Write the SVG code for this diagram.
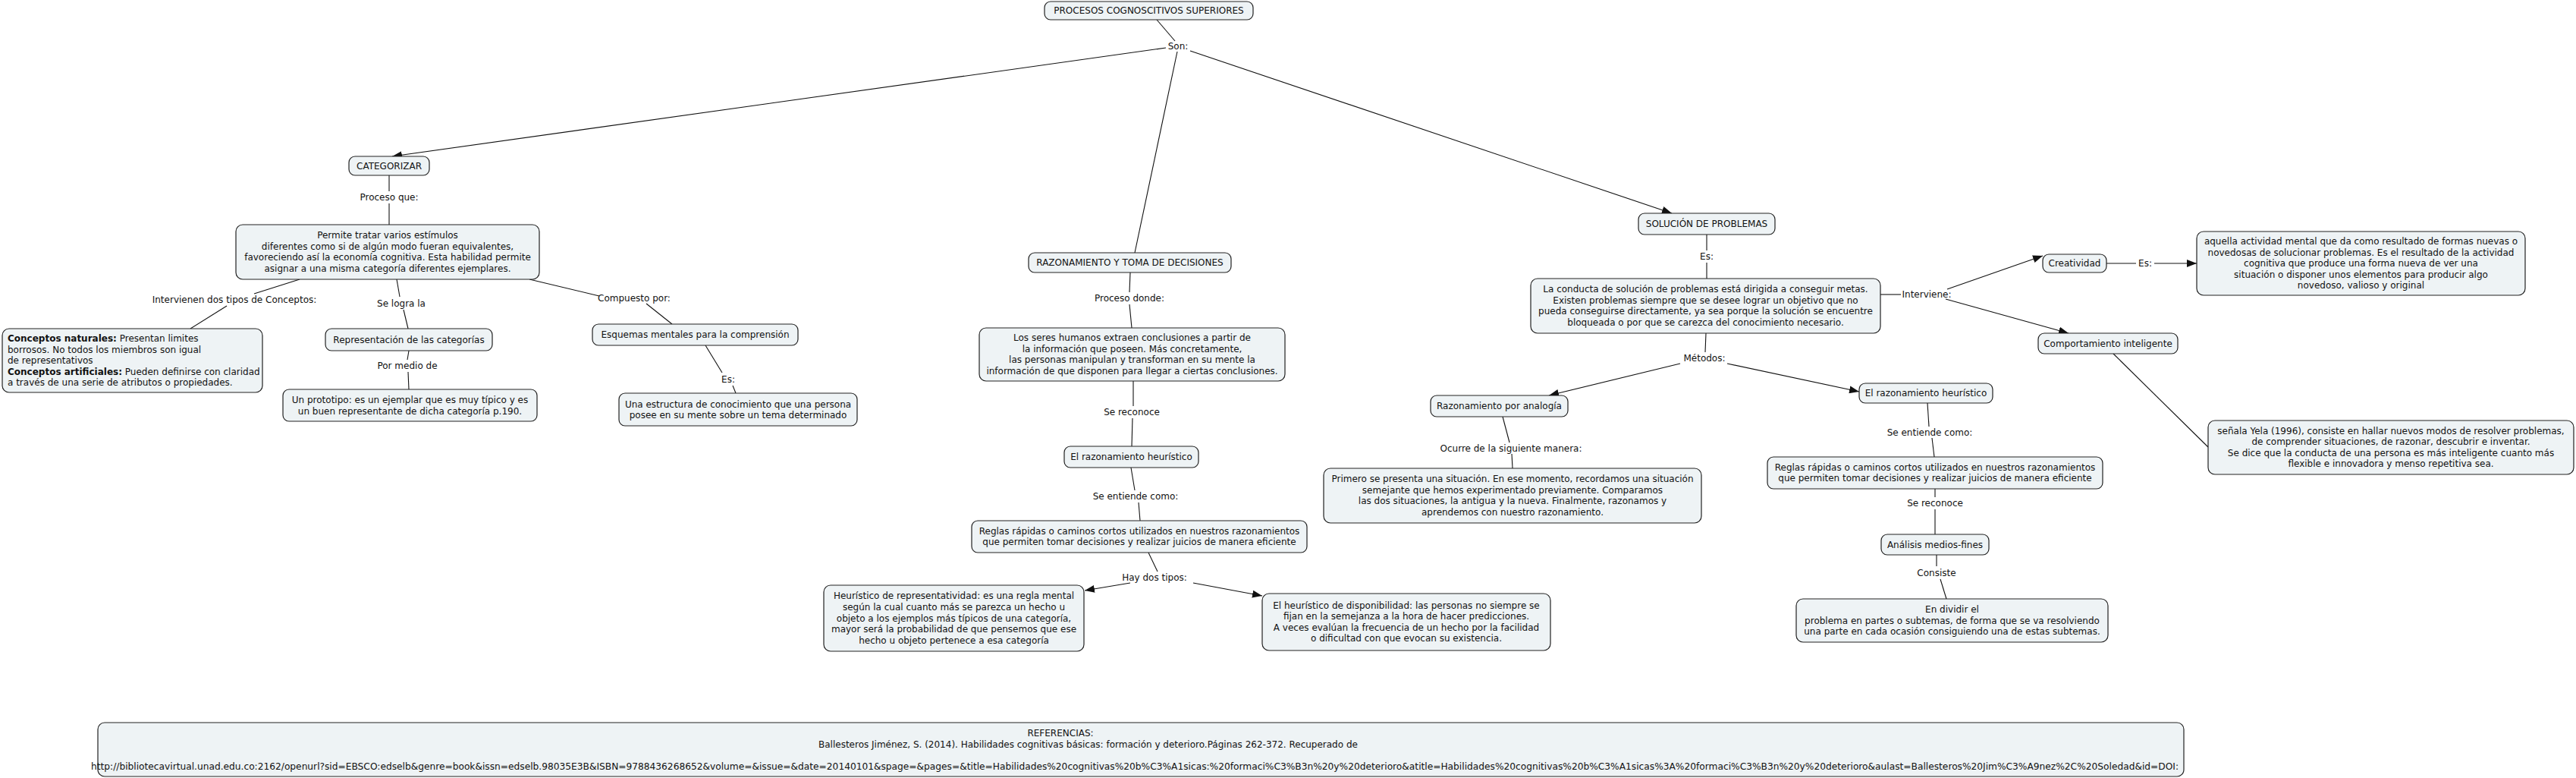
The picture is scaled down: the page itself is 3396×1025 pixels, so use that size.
<svg xmlns="http://www.w3.org/2000/svg" width="3396" height="1025" viewBox="0 0 3396 1025">
<style>
.n rect{fill:#eef3f5;stroke:#222;stroke-width:1.2}
text{font-family:"DejaVu Sans",Verdana,sans-serif;font-size:12px;fill:#111}
.m{text-anchor:middle}
.c line{stroke:#111;stroke-width:1.1}
</style>
<defs>
<marker id="a" viewBox="0 0 13 10" refX="13" refY="5" markerWidth="13" markerHeight="10" markerUnits="userSpaceOnUse" orient="auto"><path d="M0,0L13,5L0,10z" fill="#111"/></marker>
</defs>
<rect width="3396" height="1025" fill="#fff"/>
<g id="connectors" class="c">
<line x1="1525" y1="26" x2="1549" y2="54"/>
<line x1="1537" y1="63" x2="517" y2="206" marker-end="url(#a)"/>
<line x1="1552" y1="68" x2="1496" y2="333"/>
<line x1="1569" y1="67" x2="2204" y2="281" marker-end="url(#a)"/>
<line x1="513" y1="231" x2="513" y2="252"/>
<line x1="513" y1="268" x2="513" y2="296"/>
<line x1="395" y1="368" x2="335" y2="387"/>
<line x1="299" y1="403" x2="251" y2="433"/>
<line x1="523" y1="368" x2="527" y2="391"/>
<line x1="532" y1="408" x2="538" y2="433"/>
<line x1="698" y1="368" x2="790" y2="390"/>
<line x1="852" y1="400" x2="886" y2="427"/>
<line x1="539" y1="462" x2="537" y2="474"/>
<line x1="538" y1="490" x2="539" y2="513"/>
<line x1="930" y1="455" x2="952" y2="491"/>
<line x1="966" y1="508" x2="970" y2="518"/>
<line x1="1490" y1="359" x2="1489" y2="385"/>
<line x1="1489" y1="401" x2="1492" y2="432"/>
<line x1="1494" y1="502" x2="1494" y2="535"/>
<line x1="1493" y1="551" x2="1492" y2="588"/>
<line x1="1491" y1="616" x2="1496" y2="646"/>
<line x1="1501" y1="662" x2="1503" y2="686"/>
<line x1="1514" y1="728" x2="1526" y2="753"/>
<line x1="1490" y1="768" x2="1430" y2="778" marker-end="url(#a)"/>
<line x1="1573" y1="768" x2="1664" y2="785" marker-end="url(#a)"/>
<line x1="2250" y1="309" x2="2250" y2="330"/>
<line x1="2250" y1="346" x2="2250" y2="367"/>
<line x1="2249" y1="439" x2="2248" y2="464"/>
<line x1="2215" y1="479" x2="2042" y2="521" marker-end="url(#a)"/>
<line x1="2277" y1="479" x2="2451" y2="516" marker-end="url(#a)"/>
<line x1="1981" y1="549" x2="1990" y2="583"/>
<line x1="1993" y1="598" x2="1994" y2="617"/>
<line x1="2541" y1="531" x2="2543" y2="562"/>
<line x1="2547" y1="577" x2="2550" y2="602"/>
<line x1="2551" y1="644" x2="2551" y2="655"/>
<line x1="2551" y1="671" x2="2551" y2="704"/>
<line x1="2553" y1="731" x2="2553" y2="746"/>
<line x1="2558" y1="763" x2="2566" y2="789"/>
<line x1="2479" y1="388" x2="2506" y2="388"/>
<line x1="2567" y1="381" x2="2693" y2="337" marker-end="url(#a)"/>
<line x1="2565" y1="394" x2="2727" y2="439" marker-end="url(#a)"/>
<line x1="2777" y1="347" x2="2816" y2="347"/>
<line x1="2840" y1="347" x2="2896" y2="347" marker-end="url(#a)"/>
<line x1="2786" y1="466" x2="2911" y2="589"/>
</g>
<g id="labels">
<text class="m" x="1553" y="65">Son:</text>
<text class="m" x="513" y="264">Proceso que:</text>
<text class="m" x="309" y="399">Intervienen dos tipos de Conceptos:</text>
<text class="m" x="529" y="404">Se logra la</text>
<text class="m" x="836" y="397">Compuesto por:</text>
<text class="m" x="537" y="486">Por medio de</text>
<text class="m" x="960" y="504">Es:</text>
<text class="m" x="1489" y="397">Proceso donde:</text>
<text class="m" x="1492" y="547">Se reconoce</text>
<text class="m" x="1497" y="658">Se entiende como:</text>
<text class="m" x="1522" y="765">Hay dos tipos:</text>
<text class="m" x="2250" y="342">Es:</text>
<text class="m" x="2247" y="476">Métodos:</text>
<text class="m" x="1992" y="595">Ocurre de la siguiente manera:</text>
<text class="m" x="2544" y="574">Se entiende como:</text>
<text class="m" x="2551" y="667">Se reconoce</text>
<text class="m" x="2553" y="759">Consiste</text>
<text class="m" x="2540" y="392">Interviene:</text>
<text class="m" x="2828" y="351">Es:</text>
</g>
<g id="n-root" class="n"><rect x="1377" y="2" width="275" height="24" rx="8"/><text class="m" x="1514.5" y="18">PROCESOS COGNOSCITIVOS SUPERIORES</text></g>
<g id="n-categorizar" class="n"><rect x="460" y="206" width="106" height="25" rx="8"/><text class="m" x="513" y="222.5">CATEGORIZAR</text></g>
<g id="n-permite" class="n"><rect x="311" y="296" width="400" height="72" rx="9"/><text class="m"><tspan x="511" y="314">Permite tratar varios estímulos</tspan><tspan x="511" y="328.6">diferentes como si de algún modo fueran equivalentes,</tspan><tspan x="511" y="343.2">favoreciendo así la economía cognitiva. Esta habilidad permite</tspan><tspan x="511" y="357.8">asignar a una misma categoría diferentes ejemplares.</tspan></text></g>
<g id="n-conceptos" class="n"><rect x="3" y="433" width="343" height="84" rx="9"/><text><tspan x="10" y="450"><tspan font-weight="bold">Conceptos naturales:</tspan> Presentan limites</tspan><tspan x="10" y="464.6">borrosos. No todos los miembros son igual</tspan><tspan x="10" y="479.2">de representativos</tspan><tspan x="10" y="493.8"><tspan font-weight="bold">Conceptos artificiales:</tspan> Pueden definirse con claridad</tspan><tspan x="10" y="508.4">a través de una serie de atributos o propiedades.</tspan></text></g>
<g id="n-representacion" class="n"><rect x="429" y="433" width="220" height="29" rx="8"/><text class="m" x="539" y="451.5">Representación de las categorías</text></g>
<g id="n-prototipo" class="n"><rect x="373" y="513" width="335" height="42" rx="8"/><text class="m"><tspan x="540.5" y="531">Un prototipo: es un ejemplar que es muy típico y es</tspan><tspan x="540.5" y="545.6">un buen representante de dicha categoría p.190.</tspan></text></g>
<g id="n-esquemas" class="n"><rect x="781" y="427" width="271" height="28" rx="8"/><text class="m" x="916.5" y="445">Esquemas mentales para la comprensión</text></g>
<g id="n-estructura" class="n"><rect x="816" y="518" width="314" height="43" rx="8"/><text class="m"><tspan x="973" y="536.5">Una estructura de conocimiento que una persona</tspan><tspan x="973" y="551.1">posee en su mente sobre un tema determinado</tspan></text></g>
<g id="n-razonamiento" class="n"><rect x="1356" y="333" width="267" height="26" rx="8"/><text class="m" x="1489.5" y="350">RAZONAMIENTO Y TOMA DE DECISIONES</text></g>
<g id="n-seres" class="n"><rect x="1291" y="432" width="403" height="70" rx="9"/><text class="m"><tspan x="1492.5" y="449">Los seres humanos extraen conclusiones a partir de</tspan><tspan x="1492.5" y="463.6">la información que poseen. Más concretamente,</tspan><tspan x="1492.5" y="478.2">las personas manipulan y transforman en su mente la</tspan><tspan x="1492.5" y="492.8">información de que disponen para llegar a ciertas conclusiones.</tspan></text></g>
<g id="n-heuristico1" class="n"><rect x="1403" y="588" width="177" height="28" rx="8"/><text class="m" x="1491.5" y="606">El razonamiento heurístico</text></g>
<g id="n-reglas1" class="n"><rect x="1281" y="686" width="442" height="42" rx="8"/><text class="m"><tspan x="1502" y="703.7">Reglas rápidas o caminos cortos utilizados en nuestros razonamientos</tspan><tspan x="1502" y="718.3">que permiten tomar decisiones y realizar juicios de manera eficiente</tspan></text></g>
<g id="n-representatividad" class="n"><rect x="1086" y="771" width="343" height="87" rx="9"/><text class="m"><tspan x="1257.5" y="789.3">Heurístico de representatividad: es una regla mental</tspan><tspan x="1257.5" y="803.9">según la cual cuanto más se parezca un hecho u</tspan><tspan x="1257.5" y="818.5">objeto a los ejemplos más típicos de una categoría,</tspan><tspan x="1257.5" y="833.1">mayor será la probabilidad de que pensemos que ese</tspan><tspan x="1257.5" y="847.7">hecho u objeto pertenece a esa categoría</tspan></text></g>
<g id="n-disponibilidad" class="n"><rect x="1664" y="782" width="380" height="75" rx="9"/><text class="m"><tspan x="1854" y="801.6">El heurístico de disponibilidad: las personas no siempre se</tspan><tspan x="1854" y="816.2">fijan en la semejanza a la hora de hacer predicciones.</tspan><tspan x="1854" y="830.8">A veces evalúan la frecuencia de un hecho por la facilidad</tspan><tspan x="1854" y="845.4">o dificultad con que evocan su existencia.</tspan></text></g>
<g id="n-solucion" class="n"><rect x="2160" y="281" width="180" height="28" rx="8"/><text class="m" x="2250" y="299">SOLUCIÓN DE PROBLEMAS</text></g>
<g id="n-conducta" class="n"><rect x="2018" y="367" width="461" height="72" rx="9"/><text class="m"><tspan x="2248.5" y="385.1">La conducta de solución de problemas está dirigida a conseguir metas.</tspan><tspan x="2248.5" y="399.7">Existen problemas siempre que se desee lograr un objetivo que no</tspan><tspan x="2248.5" y="414.3">pueda conseguirse directamente, ya sea porque la solución se encuentre</tspan><tspan x="2248.5" y="428.9">bloqueada o por que se carezca del conocimiento necesario.</tspan></text></g>
<g id="n-analogia" class="n"><rect x="1886" y="521" width="181" height="28" rx="8"/><text class="m" x="1976.5" y="539">Razonamiento por analogía</text></g>
<g id="n-primero" class="n"><rect x="1745" y="617" width="498" height="72" rx="9"/><text class="m"><tspan x="1994" y="635.1">Primero se presenta una situación. En ese momento, recordamos una situación</tspan><tspan x="1994" y="649.7">semejante que hemos experimentado previamente. Comparamos</tspan><tspan x="1994" y="664.3">las dos situaciones, la antigua y la nueva. Finalmente, razonamos y</tspan><tspan x="1994" y="678.9">aprendemos con nuestro razonamiento.</tspan></text></g>
<g id="n-heuristico2" class="n"><rect x="2451" y="505" width="176" height="26" rx="8"/><text class="m" x="2539" y="522">El razonamiento heurístico</text></g>
<g id="n-reglas2" class="n"><rect x="2330" y="602" width="442" height="42" rx="8"/><text class="m"><tspan x="2551" y="619.7">Reglas rápidas o caminos cortos utilizados en nuestros razonamientos</tspan><tspan x="2551" y="634.3">que permiten tomar decisiones y realizar juicios de manera eficiente</tspan></text></g>
<g id="n-analisis" class="n"><rect x="2480" y="704" width="142" height="27" rx="8"/><text class="m" x="2551" y="721.5">Análisis medios-fines</text></g>
<g id="n-dividir" class="n"><rect x="2368" y="789" width="411" height="57" rx="9"/><text class="m"><tspan x="2573.5" y="806.9">En dividir el</tspan><tspan x="2573.5" y="821.5">problema en partes o subtemas, de forma que se va resolviendo</tspan><tspan x="2573.5" y="836.1">una parte en cada ocasión consiguiendo una de estas subtemas.</tspan></text></g>
<g id="n-creatividad" class="n"><rect x="2693" y="335" width="84" height="24" rx="8"/><text class="m" x="2735" y="351">Creatividad</text></g>
<g id="n-creatividad-def" class="n"><rect x="2896" y="305" width="433" height="84" rx="9"/><text class="m"><tspan x="3112.5" y="322">aquella actividad mental que da como resultado de formas nuevas o</tspan><tspan x="3112.5" y="336.5">novedosas de solucionar problemas. Es el resultado de la actividad</tspan><tspan x="3112.5" y="351">cognitiva que produce una forma nueva de ver una</tspan><tspan x="3112.5" y="365.5">situación o disponer unos elementos para producir algo</tspan><tspan x="3112.5" y="380">novedoso, valioso y original</tspan></text></g>
<g id="n-comportamiento" class="n"><rect x="2687" y="439" width="184" height="27" rx="8"/><text class="m" x="2779" y="456.5">Comportamiento inteligente</text></g>
<g id="n-senala" class="n"><rect x="2911" y="554" width="482" height="71" rx="9"/><text class="m"><tspan x="3152" y="571.6">señala Yela (1996), consiste en hallar nuevos modos de resolver problemas,</tspan><tspan x="3152" y="586.2">de comprender situaciones, de razonar, descubrir e inventar.</tspan><tspan x="3152" y="600.8">Se dice que la conducta de una persona es más inteligente cuanto más</tspan><tspan x="3152" y="615.4">flexible e innovadora y menso repetitiva sea.</tspan></text></g>
<g id="n-referencias" class="n"><rect x="129" y="952" width="2750" height="71" rx="9"/><text class="m" x="1398" y="970">REFERENCIAS:</text><text x="1079" y="985">Ballesteros Jiménez, S. (2014). Habilidades cognitivas básicas: formación y deterioro.Páginas 262-372. Recuperado de</text><text x="120" y="1014" textLength="2752" lengthAdjust="spacingAndGlyphs">http://bibliotecavirtual.unad.edu.co:2162/openurl?sid=EBSCO:edselb&amp;genre=book&amp;issn=edselb.98035E3B&amp;ISBN=9788436268652&amp;volume=&amp;issue=&amp;date=20140101&amp;spage=&amp;pages=&amp;title=Habilidades%20cognitivas%20b%C3%A1sicas:%20formaci%C3%B3n%20y%20deterioro&amp;atitle=Habilidades%20cognitivas%20b%C3%A1sicas%3A%20formaci%C3%B3n%20y%20deterioro&amp;aulast=Ballesteros%20Jim%C3%A9nez%2C%20Soledad&amp;id=DOI:</text></g>
</svg>
